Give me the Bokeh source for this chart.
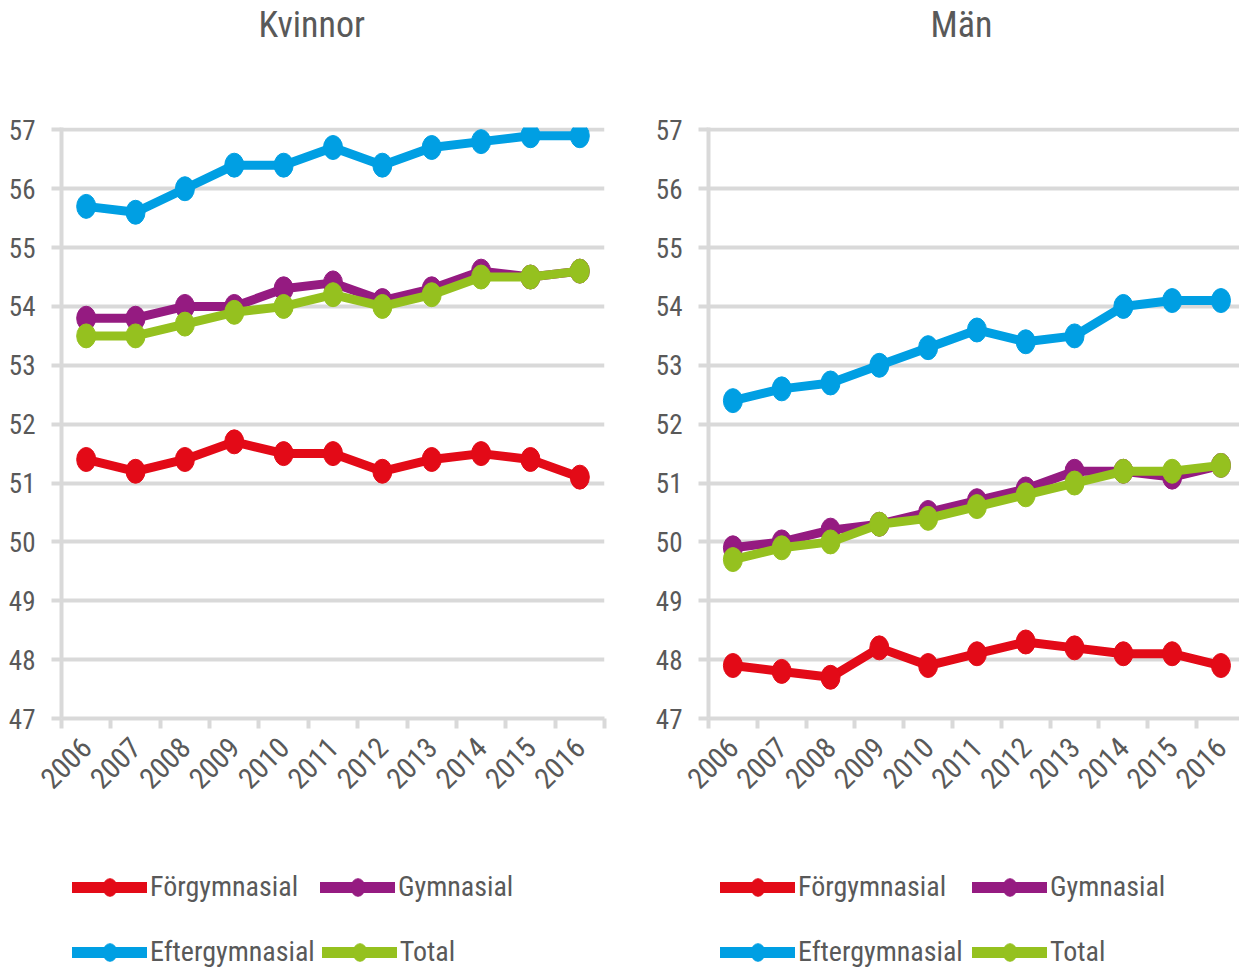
import math
from bokeh.plotting import figure
from bokeh.models import (FixedTicker, Range1d, Legend, LegendItem)
from bokeh.layouts import row, column
from bokeh.embed import file_html
from bokeh.resources import INLINE

years = ["2006", "2007", "2008", "2009", "2010", "2011", "2012", "2013", "2014", "2015", "2016"]
series_names = ["Förgymnasial", "Gymnasial", "Eftergymnasial", "Total"]
colors = ["#e30a17", "#951b81", "#009fe3", "#95c11f"]
panel_titles = ["Kvinnor", "Män"]

kvinnor_forgymnasial = [51.4, 51.2, 51.4, 51.7, 51.5, 51.5, 51.2, 51.4, 51.5, 51.4, 51.1]
kvinnor_gymnasial = [53.8, 53.8, 54.0, 54.0, 54.3, 54.4, 54.1, 54.3, 54.6, 54.5, 54.6]
kvinnor_eftergymnasial = [55.7, 55.6, 56.0, 56.4, 56.4, 56.7, 56.4, 56.7, 56.8, 56.9, 56.9]
kvinnor_total = [53.5, 53.5, 53.7, 53.9, 54.0, 54.2, 54.0, 54.2, 54.5, 54.5, 54.6]

man_forgymnasial = [47.9, 47.8, 47.7, 48.2, 47.9, 48.1, 48.3, 48.2, 48.1, 48.1, 47.9]
man_gymnasial = [49.9, 50.0, 50.2, 50.3, 50.5, 50.7, 50.9, 51.2, 51.2, 51.1, 51.3]
man_eftergymnasial = [52.4, 52.6, 52.7, 53.0, 53.3, 53.6, 53.4, 53.5, 54.0, 54.1, 54.1]
man_total = [49.7, 49.9, 50.0, 50.3, 50.4, 50.6, 50.8, 51.0, 51.2, 51.2, 51.3]

y_ticks = [47, 48, 49, 50, 51, 52, 53, 54, 55, 56, 57]

FONT = "Roboto Condensed"
TXT = "#595959"
GRID = "#d9d9d9"
LINE_W = 9
MARK_W, MARK_H = 19, 24
TITLE_H = 60
MAIN_H = 780
LEG_H = 128
TOP_B = 127 - TITLE_H


def make_title(text, width, offset):
    t = figure(width=width, height=TITLE_H, output_backend="svg", toolbar_location=None,
               x_axis_type=None, y_axis_type=None, min_border=0,
               x_range=Range1d(0, 1), y_range=Range1d(0, 1))
    t.outline_line_color = None
    t.xgrid.grid_line_color = None
    t.ygrid.grid_line_color = None
    t.title.text = text
    t.title.text_font = FONT
    t.title.text_font_size = "36px"
    t.title.text_font_style = "normal"
    t.title.text_color = TXT
    t.title.align = "left"
    t.title.offset = offset
    t.title.vertical_align = "top"
    t.title.standoff = 6
    return t


def make_panel(data, width, left, right, x_end):
    p = figure(width=width, height=MAIN_H, output_backend="svg", toolbar_location=None,
               x_range=Range1d(-0.5, x_end), y_range=Range1d(47, 57.04),
               min_border_left=left, min_border_right=right,
               min_border_top=TOP_B, min_border_bottom=MAIN_H - TOP_B - 591)
    p.outline_line_color = None
    p.title.visible = False

    xs = list(range(len(years)))
    p.xaxis.ticker = FixedTicker(ticks=xs, minor_ticks=[i - 0.5 for i in range(len(years) + 1)])
    p.xaxis.major_label_overrides = {i: y for i, y in enumerate(years)}
    p.xaxis.major_label_orientation = math.pi / 4
    p.xaxis.major_tick_out = 0
    p.xaxis.major_tick_in = 0
    p.xaxis.minor_tick_out = 10
    p.xaxis.minor_tick_in = 0
    p.xaxis.minor_tick_line_color = GRID
    p.xaxis.minor_tick_line_width = 4
    p.xaxis.axis_line_color = GRID
    p.xaxis.axis_line_width = 4
    p.xaxis.major_label_text_font = FONT
    p.xaxis.major_label_text_font_size = "29px"
    p.xaxis.major_label_text_color = TXT
    p.xaxis.major_label_standoff = 14

    p.yaxis.ticker = FixedTicker(ticks=y_ticks)
    p.yaxis.minor_tick_line_color = None
    p.yaxis.major_tick_out = 10
    p.yaxis.major_tick_in = 0
    p.yaxis.major_tick_line_color = GRID
    p.yaxis.major_tick_line_width = 4
    p.yaxis.axis_line_color = GRID
    p.yaxis.axis_line_width = 4
    p.yaxis.major_label_text_font = FONT
    p.yaxis.major_label_text_font_size = "27px"
    p.yaxis.major_label_text_color = TXT
    p.yaxis.major_label_standoff = 16

    p.xgrid.grid_line_color = None
    p.ygrid.ticker = FixedTicker(ticks=y_ticks)
    p.ygrid.grid_line_color = GRID
    p.ygrid.grid_line_width = 4

    for name, col, vals in zip(series_names, colors, data):
        p.line(xs, vals, line_color=col, line_width=LINE_W, line_cap="round", line_join="round")
        p.ellipse(xs, vals, width=MARK_W, height=MARK_H, width_units="screen",
                  height_units="screen", fill_color=col, line_color=col)
    return p


def make_legend(width, x0, label_w, data):
    # legend-only strip: the series lie outside its visible range, only the legend shows
    lf = figure(width=width, height=LEG_H, output_backend="svg", toolbar_location=None,
                x_axis_type=None, y_axis_type=None, min_border=0,
                x_range=Range1d(0, 1), y_range=Range1d(0, 1))
    lf.outline_line_color = None
    lf.xgrid.grid_line_color = None
    lf.ygrid.grid_line_color = None
    xs = list(range(len(years)))
    items = []
    for name, col, vals in zip(series_names, colors, data):
        ln = lf.line(xs, vals, line_color=col, line_width=LINE_W + 2, line_cap="round")
        el = lf.ellipse(xs, vals, width=MARK_W, height=MARK_H, width_units="screen",
                        height_units="screen", fill_color=col, line_color=col)
        items.append(LegendItem(label=name, renderers=[ln, el]))
    common = dict(orientation="horizontal", glyph_width=75, glyph_height=22,
                  label_height=22, label_width=label_w, label_standoff=3, spacing=7,
                  padding=0, margin=0, border_line_color=None, background_fill_alpha=0,
                  label_text_font=FONT, label_text_font_size="28px",
                  label_text_color=TXT)
    lg1 = Legend(items=items[0:2], location=(x0, 65), **common)
    lg2 = Legend(items=items[2:4], location=(x0, 0), **common)
    lf.add_layout(lg1, "center")
    lf.add_layout(lg2, "center")
    return lf


kv = [kvinnor_forgymnasial, kvinnor_gymnasial, kvinnor_eftergymnasial, kvinnor_total]
ma = [man_forgymnasial, man_gymnasial, man_eftergymnasial, man_total]

t1 = make_title(panel_titles[0], 648, 258)
t2 = make_title(panel_titles[1], 591, 282)
p1 = make_panel(kv, 648, 61, 44, 10.5)
p2 = make_panel(ma, 591, 60, 0, 10.38)
l1 = make_legend(648, 72, 163, kv)
l2 = make_legend(591, 72, 167, ma)

layout = column(row(t1, t2), row(p1, p2), row(l1, l2))
open("out.html", "w").write(file_html(layout, INLINE))
